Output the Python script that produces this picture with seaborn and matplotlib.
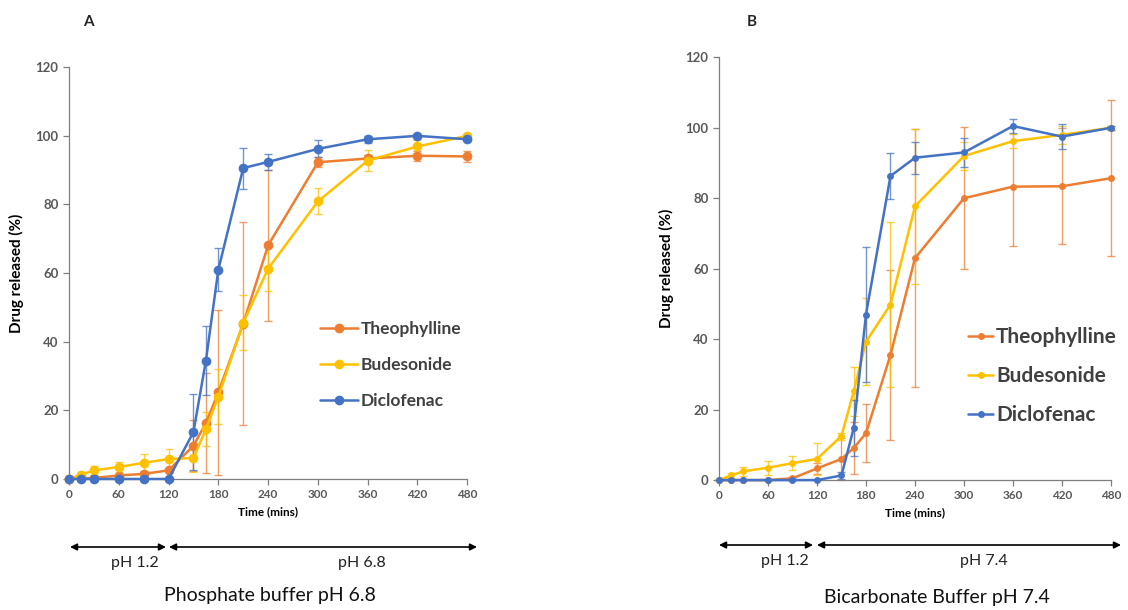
import numpy as np
import pandas as pd
import matplotlib
matplotlib.use("Agg")
import matplotlib.pyplot as plt
import seaborn as sns

sns.set_theme(style="ticks")
plt.rcParams['font.family'] = ['Lato', 'DejaVu Sans']

time = [0, 15, 30, 60, 90, 120, 150, 165, 180, 210, 240, 300, 360, 420, 480]
drugs = ["Theophylline", "Budesonide", "Diclofenac"]
colors = {"Theophylline": "#ED7D31", "Budesonide": "#FFC000", "Diclofenac": "#4472C4"}

# Panel A: phosphate buffer pH 6.8
a_theo = [0, 0.2, 0.3, 1.0, 1.5, 2.5, 9.7, 16.3, 25.3, 45.3, 68.1, 92.3, 93.4, 94.2, 94.0]
a_theo_err = [0, 0.2, 0.3, 0.5, 0.5, 0.8, 7.5, 14.5, 24.0, 29.5, 22.0, 1.5, 1.0, 1.5, 1.5]
a_bud = [0, 1.3, 2.5, 3.5, 4.7, 5.8, 6.1, 14.5, 24.0, 45.5, 61.3, 80.9, 92.8, 96.9, 100.0]
a_bud_err = [0, 0.8, 1.2, 1.5, 2.5, 3.0, 4.0, 5.0, 8.0, 8.0, 6.5, 3.8, 3.0, 2.0, 0.5]
a_dic = [0, 0, 0, 0, 0, 0, 13.7, 34.5, 61.0, 90.6, 92.4, 96.2, 99.0, 100.0, 99.0]
a_dic_err = [0, 0, 0, 0, 0, 0, 11.0, 10.0, 6.3, 6.0, 2.3, 2.5, 1.0, 0.5, 0.5]

# Panel B: bicarbonate buffer pH 7.4
b_theo = [0, 0, 0, 0, 0.5, 3.3, 6.0, 9.1, 13.3, 35.5, 63.0, 80.0, 83.3, 83.4, 85.7]
b_theo_err = [0, 0, 0, 0, 0.5, 1.5, 6.0, 7.5, 8.3, 24.0, 36.7, 20.2, 16.8, 16.4, 22.2]
b_bud = [0, 1.3, 2.5, 3.5, 4.8, 6.0, 12.5, 25.2, 39.3, 49.8, 77.7, 92.0, 96.2, 98.0, 100.0]
b_bud_err = [0, 0.8, 1.3, 2.0, 2.0, 4.5, 1.0, 7.0, 12.3, 23.5, 22.0, 4.0, 2.0, 2.5, 0.5]
b_dic = [0, 0, 0, 0, 0, 0, 1.3, 14.8, 47.0, 86.3, 91.5, 93.0, 100.5, 97.5, 100.0]
b_dic_err = [0, 0, 0, 0, 0, 0, 1.0, 8.0, 19.2, 6.5, 4.5, 4.0, 2.0, 3.5, 0.5]

xticks = [0, 60, 120, 180, 240, 300, 360, 420, 480]
yticks = [0, 20, 40, 60, 80, 100, 120]

W, H = 1128, 610
fig = plt.figure(figsize=(11.28, 6.1), dpi=100)
axA = fig.add_axes([0.0612, 0.2148, 0.353, 0.675])
axB = fig.add_axes([0.6374, 0.213, 0.3475, 0.693])

def panel(ax, vals, errs, ms, leg_xy, leg_fs, hl, ls):
    rows = []
    for d in drugs:
        for t, v in zip(time, vals[d]):
            rows.append({"Time": t, "Release": v, "Drug": d})
    df = pd.DataFrame(rows)
    for d in drugs:
        eb = ax.errorbar(time, vals[d], yerr=errs[d], fmt='none', ecolor=colors[d],
                         elinewidth=1.0, capsize=3, capthick=1.0, alpha=0.75, zorder=2)
        for c in eb.get_children():
            c.set_clip_on(False)
    sns.lineplot(data=df, x="Time", y="Release", hue="Drug", hue_order=drugs,
                 palette=colors, marker="o", markersize=ms, markeredgewidth=0,
                 linewidth=1.8, ax=ax, zorder=3, clip_on=False)
    ax.set_xlim(0, 480)
    ax.set_ylim(0, 120)
    ax.set_xticks(xticks)
    ax.set_yticks(yticks)
    ax.set_xticklabels([str(x) for x in xticks], fontsize=8.5, fontweight='bold', color='#595959')
    ax.set_yticklabels([str(y) for y in yticks], fontsize=9.5, fontweight='bold', color='#595959')
    ax.set_xlabel("Time (mins)", fontsize=8.5, fontweight='bold', color='black', labelpad=4)
    ax.set_ylabel("Drug released (%)", fontsize=11, fontweight='bold', color='black', labelpad=8)
    for s in ["top", "right"]:
        ax.spines[s].set_visible(False)
    for s in ["left", "bottom"]:
        ax.spines[s].set_color('#7f7f7f')
        ax.spines[s].set_linewidth(0.9)
    ax.tick_params(axis='both', length=4, color='#7f7f7f', width=0.9)
    leg = ax.legend(loc='upper left', bbox_to_anchor=(leg_xy[0]/W, 1 - leg_xy[1]/H),
                    bbox_transform=fig.transFigure, frameon=False, fontsize=leg_fs,
                    handlelength=hl, handletextpad=0.15, labelspacing=ls, borderaxespad=0,
                    borderpad=0)
    for t in leg.get_texts():
        t.set_fontweight('bold')
        t.set_color('#404040')
    return ax

panel(axA, {"Theophylline": a_theo, "Budesonide": a_bud, "Diclofenac": a_dic},
      {"Theophylline": a_theo_err, "Budesonide": a_bud_err, "Diclofenac": a_dic_err}, 7,
      (320, 321), 12.5, 2.2, 1.14)
panel(axB, {"Theophylline": b_theo, "Budesonide": b_bud, "Diclofenac": b_dic},
      {"Theophylline": b_theo_err, "Budesonide": b_bud_err, "Diclofenac": b_dic_err}, 5,
      (968, 327), 15, 1.2, 0.92)

fig.text(88/W, 1 - 22/H, "A", fontsize=11, fontweight='bold', ha='center', va='center')
fig.text(752/W, 1 - 22/H, "B", fontsize=11, fontweight='bold', ha='center', va='center')

def arrow(x0, x1, y):
    fig.add_artist(matplotlib.patches.FancyArrowPatch(
        (x0/W, 1 - y/H), (x1/W, 1 - y/H), transform=fig.transFigure,
        arrowstyle='<|-|>,head_length=4,head_width=2', color='black', lw=1.2,
        shrinkA=0, shrinkB=0, mutation_scale=1))

arrow(70, 166, 547)
arrow(169, 477, 547)
fig.text(135/W, 1 - 563/H, "pH 1.2", fontsize=11.5, ha='center', va='center', color='#222222')
fig.text(362/W, 1 - 563/H, "pH 6.8", fontsize=11.5, ha='center', va='center', color='#222222')
fig.text(270/W, 1 - 596/H, "Phosphate buffer pH 6.8", fontsize=14, ha='center', va='center', color='#111111')

arrow(719, 813, 545)
arrow(817, 1121, 545)
fig.text(785/W, 1 - 561/H, "pH 1.2", fontsize=11.5, ha='center', va='center', color='#222222')
fig.text(984/W, 1 - 561/H, "pH 7.4", fontsize=11.5, ha='center', va='center', color='#222222')
fig.text(937/W, 1 - 598/H, "Bicarbonate Buffer pH 7.4", fontsize=14, ha='center', va='center', color='#111111')

fig.savefig("out.png", dpi=100)
